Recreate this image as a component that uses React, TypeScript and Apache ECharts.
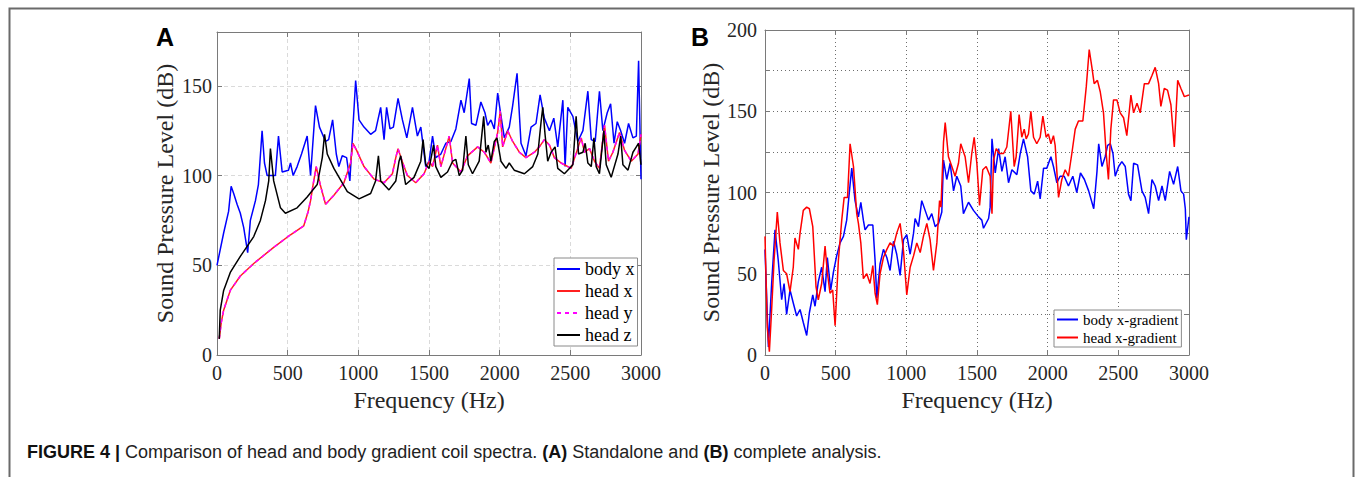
import React, { useEffect, useRef } from 'react';
import * as echarts from 'echarts';

// ---------- Panel A (standalone) ----------
const bodyXA: number[][] = [
  [0, 50], [47, 68], [82, 80], [100, 94], [118, 90], [142, 84], [165, 79], [189, 71], [217, 57], [236, 75],
  [272, 86], [293, 95], [319, 125], [336, 107], [355, 100], [413, 100], [435, 122], [461, 102], [506, 103],
  [520, 107], [539, 100], [567, 105], [598, 112], [638, 122], [662, 100], [697, 139], [725, 127], [768, 119],
  [790, 120], [818, 131], [844, 112], [862, 105], [886, 111], [917, 110], [940, 97], [981, 153], [1005, 131],
  [1040, 127], [1087, 123], [1122, 125], [1158, 138], [1182, 120], [1200, 138], [1224, 126], [1248, 127],
  [1281, 143], [1312, 131], [1343, 121], [1383, 138], [1418, 122], [1442, 127], [1477, 105], [1501, 108],
  [1525, 122], [1548, 110], [1584, 112], [1619, 118], [1655, 119], [1690, 126], [1726, 142], [1749, 135],
  [1785, 154], [1801, 129], [1832, 128], [1867, 141], [1896, 135], [1915, 128], [1938, 131], [1962, 126],
  [1986, 146], [2004, 136], [2033, 121], [2068, 127], [2092, 139], [2123, 157], [2151, 118], [2186, 111],
  [2222, 127], [2257, 129], [2286, 145], [2316, 132], [2352, 125], [2383, 132], [2411, 116], [2447, 142],
  [2463, 105], [2482, 138], [2518, 133], [2553, 119], [2589, 125], [2624, 147], [2648, 120], [2676, 119],
  [2706, 147], [2730, 125], [2761, 135], [2785, 140], [2809, 118], [2832, 130], [2856, 125], [2884, 118],
  [2912, 129], [2943, 121], [2967, 122], [2983, 164], [3000, 98],
];

const headXA: number[][] = [
  [16, 9], [30, 18], [47, 25], [94, 36], [165, 44], [260, 51], [401, 60], [520, 67], [614, 72], [645, 80],
  [662, 86], [680, 95], [702, 105], [730, 95], [768, 84], [780, 85], [827, 89], [898, 96], [945, 107],
  [962, 118], [988, 114], [1040, 105], [1111, 98], [1182, 96], [1241, 101], [1265, 110], [1281, 115],
  [1310, 108], [1347, 100], [1406, 96], [1465, 101], [1501, 108], [1525, 105], [1560, 117], [1584, 105],
  [1643, 122], [1667, 107], [1726, 102], [1773, 111], [1844, 116], [1891, 113], [1938, 107], [1986, 124],
  [2004, 136], [2021, 116], [2057, 125], [2092, 119], [2139, 113], [2186, 110], [2246, 113], [2281, 116],
  [2316, 120], [2352, 117], [2387, 110], [2435, 107], [2506, 104], [2577, 121], [2600, 113], [2636, 115],
  [2671, 108], [2706, 104], [2742, 128], [2770, 108], [2801, 113], [2848, 124], [2884, 114], [2931, 108],
  [2979, 112], [3000, 123],
];

// head y lies on top of head x in the figure
const headYA: number[][] = headXA;

const headZA: number[][] = [
  [16, 9], [23, 25], [47, 36], [94, 46], [165, 55], [260, 66], [307, 75], [343, 86], [366, 97], [378, 115],
  [401, 97], [449, 82], [484, 79], [567, 82], [638, 88], [709, 95], [745, 110], [761, 123], [780, 112],
  [827, 104], [922, 91], [1005, 87], [1087, 90], [1122, 97], [1142, 111], [1158, 97], [1217, 92], [1265, 97],
  [1288, 108], [1300, 111], [1335, 95], [1394, 99], [1442, 108], [1458, 120], [1477, 106], [1501, 104],
  [1532, 117], [1548, 105], [1584, 99], [1631, 102], [1667, 108], [1690, 109], [1714, 100], [1738, 103],
  [1761, 122], [1778, 106], [1808, 101], [1855, 108], [1887, 133], [1903, 113], [1919, 117], [1938, 108],
  [1962, 119], [1981, 121], [2009, 108], [2045, 104], [2068, 107], [2103, 103], [2175, 101], [2234, 105],
  [2270, 112], [2293, 130], [2305, 138], [2321, 123], [2340, 108], [2364, 113], [2392, 116], [2411, 104],
  [2458, 101], [2518, 106], [2541, 133], [2558, 112], [2589, 113], [2605, 118], [2624, 107], [2648, 105],
  [2667, 121], [2683, 105], [2706, 101], [2737, 125], [2754, 106], [2789, 99], [2837, 112], [2856, 122],
  [2872, 106], [2908, 103], [2943, 113], [2967, 116], [2983, 118], [3000, 106],
];

// ---------- Panel B (complete) ----------
const bodyGradB: number[][] = [
  [0, 65], [24, 5], [47, 44], [71, 77], [94, 58], [118, 34], [135, 44], [153, 25], [177, 40], [200, 32],
  [224, 24], [248, 28], [271, 20], [295, 12], [314, 26], [338, 37], [354, 30], [377, 45], [401, 54], [425, 39],
  [441, 60], [465, 40], [484, 51], [507, 61], [531, 69], [555, 73], [578, 83], [602, 105], [614, 115],
  [637, 95], [661, 85], [678, 94], [696, 83], [708, 77], [732, 80], [763, 80], [779, 58], [791, 35], [814, 56],
  [838, 65], [862, 60], [885, 52], [909, 70], [932, 62], [956, 49], [980, 71], [1003, 74], [1027, 62],
  [1051, 75], [1062, 84], [1086, 79], [1109, 95], [1133, 89], [1157, 83], [1180, 87], [1204, 79], [1228, 81],
  [1251, 88], [1263, 120], [1286, 108], [1310, 118], [1334, 101], [1357, 110], [1385, 104], [1404, 87],
  [1440, 94], [1475, 89], [1511, 85], [1534, 83], [1546, 78], [1582, 84], [1593, 91], [1606, 133], [1629, 112],
  [1653, 127], [1676, 113], [1699, 122], [1723, 106], [1747, 114], [1782, 111], [1806, 124], [1829, 133],
  [1858, 122], [1881, 101], [1905, 99], [1929, 107], [1947, 96], [1971, 115], [1994, 115], [2023, 122],
  [2041, 116], [2065, 106], [2088, 110], [2117, 110], [2147, 104], [2178, 110], [2206, 100], [2232, 112],
  [2260, 108], [2290, 101], [2326, 90], [2349, 113], [2361, 130], [2384, 116], [2407, 122], [2424, 129],
  [2443, 130], [2462, 124], [2478, 110], [2502, 116], [2525, 119], [2549, 116], [2572, 99], [2589, 95],
  [2608, 118], [2636, 117], [2667, 101], [2690, 97], [2714, 87], [2738, 108], [2761, 104], [2785, 95],
  [2809, 104], [2832, 95], [2863, 113], [2891, 105], [2920, 116], [2943, 101], [2962, 99], [2974, 90],
  [2981, 71], [3000, 85],
];

const headGradB: number[][] = [
  [0, 73], [16, 17], [31, 2], [47, 28], [64, 58], [87, 88], [106, 69], [130, 52], [153, 50], [177, 39],
  [200, 54], [212, 72], [236, 65], [248, 75], [271, 89], [295, 91], [314, 90], [338, 79], [361, 42], [377, 34],
  [401, 44], [425, 67], [441, 51], [460, 38], [479, 40], [496, 18], [519, 58], [543, 83], [560, 97], [584, 97],
  [602, 130], [626, 116], [649, 87], [661, 81], [678, 69], [696, 47], [720, 50], [743, 44], [763, 55],
  [779, 38], [795, 31], [814, 50], [838, 60], [862, 65], [885, 69], [909, 67], [932, 75], [956, 81], [980, 64],
  [1003, 37], [1027, 54], [1051, 61], [1074, 69], [1098, 63], [1121, 73], [1145, 81], [1168, 71], [1192, 52],
  [1216, 69], [1235, 95], [1245, 91], [1263, 131], [1275, 143], [1298, 122], [1322, 116], [1345, 110],
  [1369, 118], [1385, 130], [1416, 122], [1440, 106], [1463, 124], [1480, 134], [1499, 118], [1518, 92],
  [1541, 114], [1565, 116], [1593, 110], [1606, 87], [1617, 120], [1636, 127], [1659, 124], [1688, 124],
  [1711, 128], [1739, 150], [1763, 116], [1777, 122], [1798, 148], [1817, 134], [1834, 139], [1848, 133],
  [1864, 136], [1881, 150], [1900, 134], [1923, 130], [1947, 134], [1966, 147], [1989, 134], [2005, 136],
  [2023, 130], [2041, 135], [2053, 129], [2077, 97], [2100, 108], [2124, 114], [2147, 110], [2171, 124],
  [2195, 139], [2218, 144], [2249, 144], [2273, 165], [2294, 188], [2313, 177], [2329, 167], [2352, 169],
  [2372, 162], [2395, 149], [2414, 124], [2430, 108], [2447, 139], [2466, 157], [2490, 157], [2513, 149],
  [2537, 146], [2560, 135], [2589, 160], [2608, 149], [2632, 155], [2655, 149], [2684, 167], [2714, 167],
  [2738, 172], [2761, 177], [2785, 167], [2801, 153], [2825, 164], [2848, 163], [2872, 154], [2896, 128],
  [2920, 169], [2943, 164], [2967, 159], [3000, 160],
];

const legendA = ['body x', 'head x', 'head y', 'head z'];
const legendB = ['body x-gradient', 'head x-gradient'];
const xTitle = 'Frequency (Hz)';
const yTitle = 'Sound Pressure Level (dB)';
const captionBold = 'FIGURE 4 |';
const captionText = ' Comparison of head and body gradient coil spectra. ';
const captionA = '(A)';
const captionMid = ' Standalone and ';
const captionB = '(B)';
const captionEnd = ' complete analysis.';

export default function App() {
  const ref = useRef<HTMLDivElement>(null);

  useEffect(() => {
    const chart = echarts.init(ref.current as HTMLDivElement, null, { renderer: 'svg' });
    const serif = "'Liberation Serif', 'Times New Roman', serif";
    const sans = "'Liberation Sans', Arial, sans-serif";
    const frame = '#7a7a7a';
    const lab = '#262626';

    const xAx = (gi: number, splitStyle: any) => [
      {
        gridIndex: gi, type: 'value', min: 0, max: 3000, interval: 500, position: 'bottom',
        axisLine: { show: true, onZero: false, lineStyle: { color: frame, width: 1 } },
        axisTick: { show: true, inside: true, length: 5, lineStyle: { color: frame } },
        axisLabel: { color: lab, fontFamily: serif, fontSize: 20, margin: 8, formatter: (v: number) => String(v) },
        splitLine: { show: true, lineStyle: splitStyle },
        name: xTitle, nameLocation: 'middle', nameGap: 31,
        nameTextStyle: { fontFamily: serif, fontSize: 24, color: lab },
      },
      {
        gridIndex: gi, type: 'value', min: 0, max: 3000, interval: 500, position: 'top',
        axisLine: { show: true, onZero: false, lineStyle: { color: frame, width: 1 } },
        axisTick: { show: true, inside: true, length: 5, lineStyle: { color: frame } },
        axisLabel: { show: false }, splitLine: { show: false },
      },
    ];
    const yAx = (gi: number, max: number, interval: number, splitStyle: any, margin: number, gap: number) => [
      {
        gridIndex: gi, type: 'value', min: 0, max, interval, position: 'left',
        axisLine: { show: true, onZero: false, lineStyle: { color: frame, width: 1 } },
        axisTick: { show: true, inside: true, length: 5, lineStyle: { color: frame } },
        axisLabel: {
          color: lab, fontFamily: serif, fontSize: 20, margin,
          formatter: (v: number) => (v % 50 === 0 ? String(v) : ''),
        },
        splitLine: { show: true, lineStyle: splitStyle },
        name: yTitle, nameLocation: 'middle', nameGap: gap,
        nameTextStyle: { fontFamily: serif, fontSize: 24, color: lab },
      },
      {
        gridIndex: gi, type: 'value', min: 0, max, interval, position: 'right',
        axisLine: { show: true, onZero: false, lineStyle: { color: frame, width: 1 } },
        axisTick: { show: true, inside: true, length: 5, lineStyle: { color: frame } },
        axisLabel: { show: false }, splitLine: { show: false },
      },
    ];

    const dashA = { type: [4, 3], color: '#dadada', width: 1 };
    const dotB = { type: [1, 3], color: '#6e6e6e', width: 1 };

    const line = (name: string, data: number[][], color: string, xi: number, extra: any = {}) => ({
      name, type: 'line', data, xAxisIndex: xi, yAxisIndex: xi, symbol: 'none', showSymbol: false,
      lineStyle: { color, width: 1.5, ...extra }, itemStyle: { color }, emphasis: { disabled: true },
    });

    const legendCommon = {
      orient: 'vertical', selectedMode: false, backgroundColor: '#fff',
      borderColor: '#8a8a8a', borderWidth: 1, borderRadius: 0,
      itemStyle: { color: 'transparent', borderColor: 'transparent', borderWidth: 0, opacity: 0 },
    };

    chart.setOption({
      animation: false,
      backgroundColor: '#fff',
      grid: [
        { left: 217, top: 32, width: 424, height: 323 },
        { left: 765, top: 30, width: 424, height: 325 },
      ],
      xAxis: [...xAx(0, dashA), ...xAx(1, dotB)],
      yAxis: [...yAx(0, 180, 50, dashA, 5, 40), ...yAx(1, 200, 25, dotB, 8, 38)],
      legend: [
        {
          ...legendCommon, data: legendA, left: 554, top: 258, itemWidth: 23, itemHeight: 14, itemGap: 4,
          padding: [2, 3, 2, 2],
          textStyle: { fontFamily: serif, fontSize: 18, color: '#000' },
        },
        {
          ...legendCommon, data: legendB, left: 1054, top: 310, itemWidth: 21, itemHeight: 12, itemGap: 3,
          padding: [2, 3, 2, 2],
          textStyle: { fontFamily: serif, fontSize: 15, color: '#000' },
        },
      ],
      series: [
        line(legendA[0], bodyXA, '#0000ff', 0),
        line(legendA[1], headXA, '#ff2020', 0),
        line(legendA[2], headYA, '#ff00ff', 0, { type: [4, 4] }),
        line(legendA[3], headZA, '#000000', 0),
        line(legendB[0], bodyGradB, '#0000ff', 2),
        line(legendB[1], headGradB, '#ff0000', 2),
      ],
      graphic: [
        {
          type: 'polyline', silent: true,
          shape: { points: [[9.5, 477], [9.5, 8.5], [1353.5, 8.5], [1353.5, 477]] },
          style: { stroke: '#6a6a6a', lineWidth: 2, fill: 'none' },
        },
        {
          type: 'text', x: 156, y: 37,
          style: { text: 'A', font: `bold 25px ${sans}`, fill: '#000', verticalAlign: 'middle' },
        },
        {
          type: 'text', x: 691, y: 37,
          style: { text: 'B', font: `bold 25px ${sans}`, fill: '#000', verticalAlign: 'middle' },
        },
        {
          type: 'text', x: 27, y: 452,
          style: {
            text: `{b|${captionBold}}{r|${captionText}}{b|${captionA}}{r|${captionMid}}{b|${captionB}}{r|${captionEnd}}`,
            verticalAlign: 'middle',
            rich: {
              b: { fontFamily: sans, fontSize: 18, fontWeight: 'bold', fill: '#111' },
              r: { fontFamily: sans, fontSize: 18, fill: '#222' },
            },
          },
        },
      ],
    });
    return () => chart.dispose();
  }, []);

  return (
    <div
      ref={ref}
      style={{ position: 'absolute', left: 0, top: 0, width: 1355, height: 477, background: '#fff' }}
    />
  );
}
